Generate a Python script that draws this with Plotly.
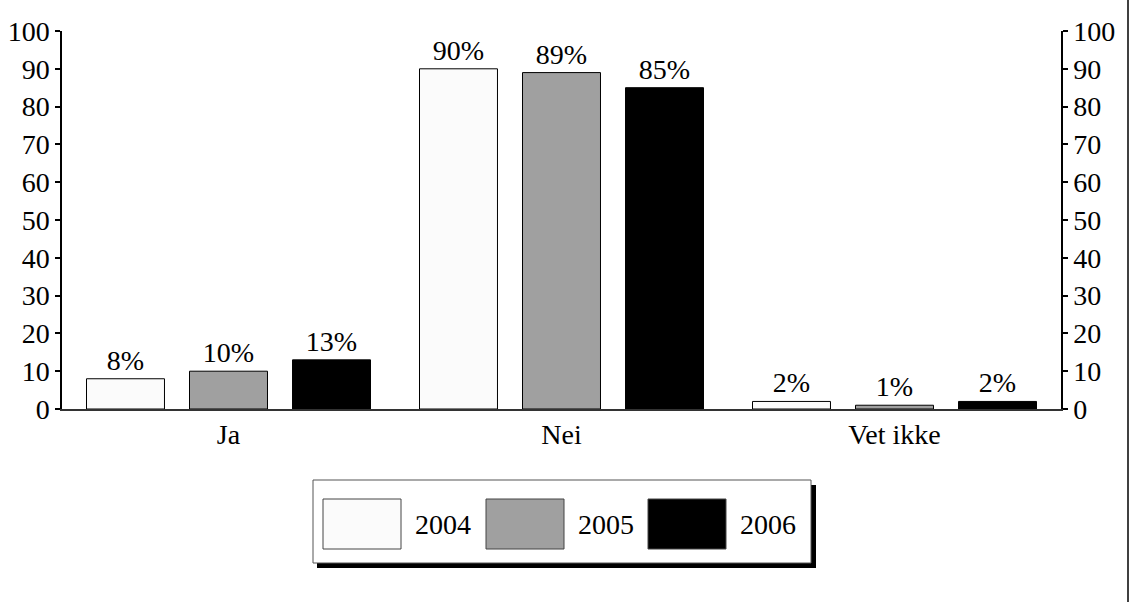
import plotly.graph_objects as go

categories = ["Ja", "Nei", "Vet ikke"]
years = ["2004", "2005", "2006"]
values_2004 = [8, 90, 2]
values_2005 = [10, 89, 1]
values_2006 = [13, 85, 2]
y_ticks = [0, 10, 20, 30, 40, 50, 60, 70, 80, 90, 100]

series = [values_2004, values_2005, values_2006]
colors = ["#FBFBFB", "#A0A0A0", "#000000"]

W, H = 1130, 602
L, R, T, B = 62, 1061, 31, 409
FONT = "Liberation Serif, Times New Roman, serif"

def px(x):
    return (x - L) / (R - L)

def py(y):
    return (B - y) / (B - T)

fig = go.Figure()
for name, vals, col in zip(years, series, colors):
    fig.add_trace(go.Bar(
        x=categories, y=vals, name=name,
        marker=dict(color=col, line=dict(color="#000000", width=1)),
        text=[f"{v}%" for v in vals], textposition="outside",
        textfont=dict(family=FONT, size=28, color="#000"),
        cliponaxis=False, showlegend=False,
    ))
# invisible trace for right axis
fig.add_trace(go.Scatter(x=categories, y=[None] * 3, yaxis="y2", showlegend=False, hoverinfo="skip"))

fig.update_layout(
    width=W, height=H,
    margin=dict(l=L, r=W - R, t=T, b=H - B, autoexpand=False),
    paper_bgcolor="white", plot_bgcolor="white",
    font=dict(family=FONT, size=28, color="#000"),
    barmode="group", bargap=0.072, bargroupgap=0.243,
    showlegend=False,
    xaxis=dict(showline=True, linecolor="#333", linewidth=1.5, ticks="", showgrid=False,
               tickfont=dict(size=28), zeroline=False, automargin=False),
    yaxis=dict(range=[0, 100], tickvals=y_ticks, showline=True, linecolor="#000", linewidth=1.5,
               ticks="outside", ticklen=5, tickwidth=1.5, tickcolor="#000", showgrid=False, zeroline=False,
               tickfont=dict(size=28), automargin=False),
    yaxis2=dict(range=[0, 100], tickvals=y_ticks, overlaying="y", side="right", showline=True,
                linecolor="#000", linewidth=1.5, ticks="outside", ticklen=5, tickwidth=1.5,
                tickcolor="#000", showgrid=False, zeroline=False, tickfont=dict(size=28), automargin=False),
)

shapes = []
# legend shadow
shapes.append(dict(type="rect", xref="paper", yref="paper", x0=px(317), x1=px(816), y0=py(485), y1=py(568),
                   fillcolor="#000", line=dict(width=0), layer="above"))
# legend box
shapes.append(dict(type="rect", xref="paper", yref="paper", x0=px(313), x1=px(811), y0=py(480), y1=py(563),
                   fillcolor="white", line=dict(color="#555", width=1), layer="above"))
sw_x = [323, 486, 648]
txt_x = [443, 606, 768]
for i, (name, col) in enumerate(zip(years, colors)):
    shapes.append(dict(type="rect", xref="paper", yref="paper", x0=px(sw_x[i]), x1=px(sw_x[i] + 78),
                       y0=py(499), y1=py(549), fillcolor=col, line=dict(color="#444", width=1), layer="above"))
    fig.add_annotation(xref="paper", yref="paper", x=px(txt_x[i]), y=py(524), text=name, showarrow=False,
                       font=dict(family=FONT, size=28, color="#000"), xanchor="center", yanchor="middle")
# right border line
shapes.append(dict(type="line", xref="paper", yref="paper", x0=px(1128), x1=px(1128), y0=py(0), y1=py(602),
                   line=dict(color="#000", width=1.5), layer="above"))
fig.update_layout(shapes=shapes)

fig.write_html(
    "out.html",
    config={"displayModeBar": False},
    post_script="document.body.style.margin='0';document.body.style.overflow='hidden';",
)
